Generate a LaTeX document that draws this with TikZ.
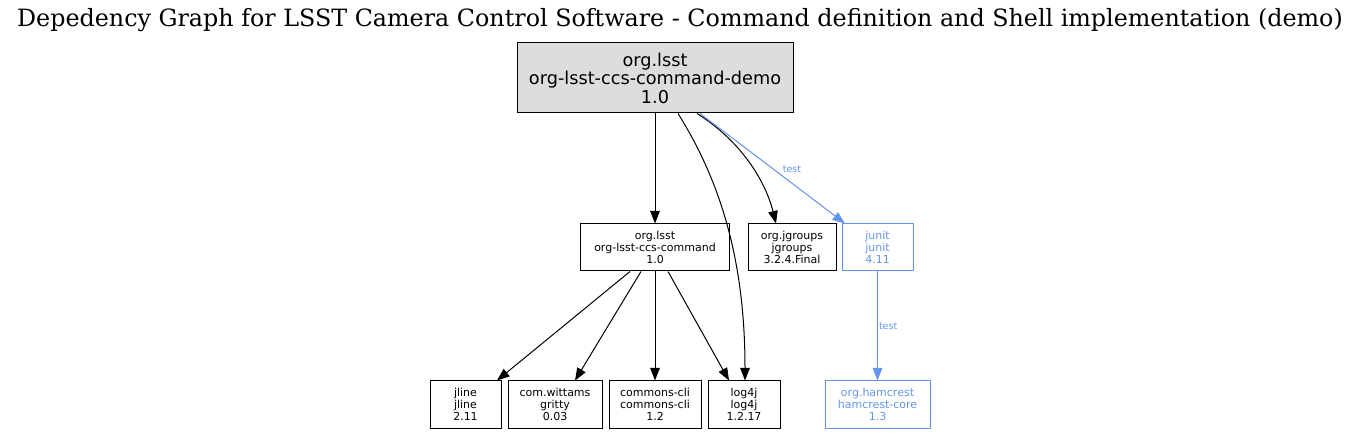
\documentclass[tikz,border=0pt]{standalone}
\usepackage{fontspec}
\setmainfont{DejaVu Serif}
\setsansfont{DejaVu Sans}
\usetikzlibrary{arrows.meta}
\definecolor{testblue}{HTML}{6495ED}
\definecolor{rootgray}{HTML}{DDDDDD}
\tikzset{
  box/.style={draw, line width=1pt, minimum height=47pt, inner sep=0pt, align=center,
    font=\fontsize{11}{12}\selectfont\sffamily},
  rootbox/.style={box, fill=rootgray, minimum height=70pt,
    font=\fontsize{17.7}{18.5}\selectfont\sffamily},
  testbox/.style={box, draw=testblue, text=testblue},
  dep/.style={line width=1pt, -{Triangle[length=12.5pt,width=9.5pt]}},
  testdep/.style={dep, draw=testblue, fill=testblue},
  elabel/.style={font=\fontsize{9.5}{10}\selectfont\sffamily, text=testblue, inner sep=1pt}
}
\begin{document}
\begin{tikzpicture}[x=1pt,y=-1pt]
\useasboundingbox (0,0) rectangle (1360,435);
\node[font=\fontsize{23.8}{26}\selectfont\rmfamily] (title) at (680,20)
  {Depedency Graph for LSST Camera Control Software - Command definition and Shell implementation (demo)};
\node[rootbox, minimum width=276pt] (root) at (655,78) {org.lsst\\org-lsst-ccs-command-demo\\1.0};
\node[box, minimum width=149pt] (cmd) at (655,247.5) {org.lsst\\org-lsst-ccs-command\\1.0};
\node[box, minimum width=88pt] (jgroups) at (792,247.5) {org.jgroups\\jgroups\\3.2.4.Final};
\node[testbox, minimum width=71pt] (junit) at (877.5,247.5) {junit\\junit\\4.11};
\node[box, minimum width=71pt] (jline) at (465.5,404.5) {jline\\jline\\2.11};
\node[box, minimum width=94pt] (gritty) at (555,404.5) {com.wittams\\gritty\\0.03};
\node[box, minimum width=92pt] (cli) at (655,404.5) {commons-cli\\commons-cli\\1.2};
\node[box, minimum width=72pt] (log4j) at (744,404.5) {log4j\\log4j\\1.2.17};
\node[testbox, minimum width=105pt] (hamcrest) at (877.5,404.5) {org.hamcrest\\hamcrest-core\\1.3};

\draw[dep] (root.south) -- (cmd.north);
\draw[dep] ([xshift=23pt]root.south) .. controls +(42,67) and +(0,-121) .. ([xshift=1pt]log4j.north);
\draw[dep] ([xshift=42pt]root.south) .. controls +(43,27) and +(-11,-44) .. ([xshift=-16pt]jgroups.north);
\draw[testdep] ([xshift=45pt]root.south) -- node[elabel, pos=0.6, above=5pt, xshift=5pt] (t1) {test} ([xshift=-32.5pt]junit.north);
\draw[testdep] (junit.south) -- node[elabel, right, pos=0.5] (t2) {test} (hamcrest.north);
\draw[dep] ([xshift=-25pt]cmd.south) -- ([xshift=31.5pt]jline.north);
\draw[dep] ([xshift=-14pt]cmd.south) -- ([xshift=20pt]gritty.north);
\draw[dep] (cmd.south) -- (cli.north);
\draw[dep] ([xshift=13pt]cmd.south) -- ([xshift=-15pt]log4j.north);
\end{tikzpicture}
\end{document}
